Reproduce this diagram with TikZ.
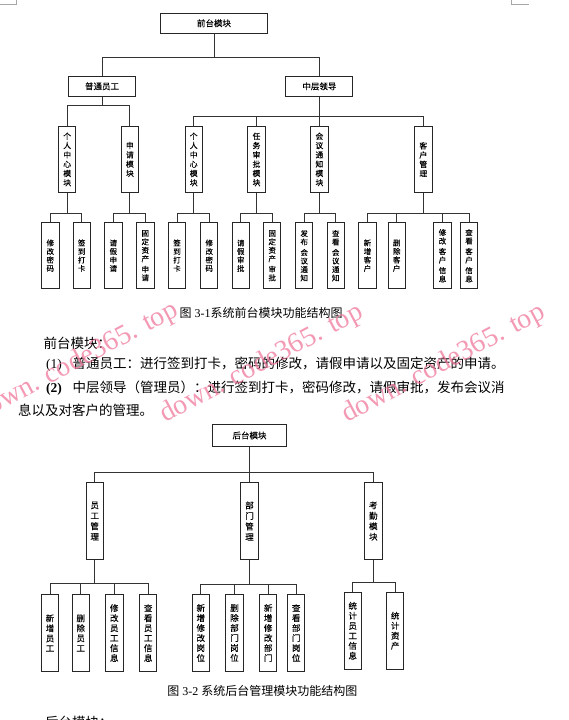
\documentclass[tikz,border=0pt]{standalone}
\usepackage{fontspec}
\setmainfont{Liberation Serif}
\newfontfamily\cjk{Noto Sans CJK SC}
\newfontfamily\cjkd[FakeBold=0.12]{Noto Sans CJK SC}
\definecolor{wmpink}{RGB}{240,120,155}
\begin{document}
\begin{tikzpicture}[x=1pt,y=-1pt,
 conn/.style={line width=1pt, draw=black!80},
 hbox/.style={draw=black!85, line width=1pt, fill=white, inner sep=0pt, minimum height=20pt, font=\cjkd\fontsize{8.5}{10}\selectfont},
 vbox/.style={draw=black!85, line width=1pt, fill=white, inner sep=0pt, minimum width=17.4pt, minimum height=65.6pt, align=center, font=\cjkd\fontsize{7.8}{9.3}\selectfont},
 leafbox/.style={vbox, minimum height=66pt, font=\cjkd\fontsize{7.5}{8.5}\selectfont},
 vboxb/.style={vbox, minimum height=76.6pt, font=\cjkd\fontsize{8.5}{10.5}\selectfont},
 leafboxb/.style={vbox, minimum height=77.4pt, font=\cjkd\fontsize{8.5}{10}\selectfont},
 body/.style={anchor=west, inner sep=0pt, font=\cjk\fontsize{13.5}{16}\selectfont},
 captext/.style={inner sep=0pt, font=\fontsize{12}{14}\selectfont},
 wm/.style={text=wmpink, opacity=0.75, font=\fontsize{28}{30}\selectfont, inner sep=0pt},
 cornermark/.style={black!35, line width=0.6pt},
]
\useasboundingbox (0,0) rectangle (568,720);
\fill[white] (0,0) rectangle (568,720);
\clip (0,0) rectangle (568,720);
% corner marks
\draw[cornermark] (0,4.3) -- (16.3,4.3) -- (16.3,0);
\draw[cornermark] (511,0) -- (511,4.3) -- (529,4.3);

% ---------- diagram 1 ----------
\node[hbox, minimum width=107.8pt] (front) at (214,23.3) {前台模块};
\node[hbox, minimum width=67pt] (staff) at (102,86.3) {普通员工};
\node[hbox, minimum width=67pt] (lead) at (319.4,86.3) {中层领导};
\coordinate (fb) at (214,57.7);
\draw[conn] (front.south) -- (fb);
\draw[conn] (fb) -| (staff.north);
\draw[conn] (fb) -| (lead.north);

\node[vbox] (s1) at (67.2,159.5) {个\\人\\中\\心\\模\\块};
\node[vbox] (s2) at (129.9,159.5) {申\\请\\模\\块};
\coordinate (sb) at (102,105.7);
\draw[conn] (staff.south) -- (sb);
\draw[conn] (sb) -| (s1.north);
\draw[conn] (sb) -| (s2.north);

\node[vbox] (l1) at (193.7,159.5) {个\\人\\中\\心\\模\\块};
\node[vbox] (l2) at (256.5,159.5) {任\\务\\审\\批\\模\\块};
\node[vbox] (l3) at (319.4,159.5) {会\\议\\通\\知\\模\\块};
\node[vbox] (l4) at (423.3,159.5) {客\\户\\管\\理};
\coordinate (lb) at (319.4,116.7);
\draw[conn] (lead.south) -- (lb);
\foreach \c in {l1,l2,l3,l4} \draw[conn] (lb) -| (\c.north);

% leaves of diagram 1
\node[leafbox] (s1a) at (50.3,255.7) {修\\改\\密\\码};
\node[leafbox] (s1b) at (81.7,255.7) {签\\到\\打\\卡};
\coordinate (s1j) at (67.2,213.3);
\node[leafbox] (s2a) at (113.3,255.7) {请\\假\\申\\请};
\node[leafbox] (s2b) at (145.3,255.7) {固\\定\\资\\产\\[2pt]申\\请};
\coordinate (s2j) at (129.9,213.3);
\node[leafbox] (l1a) at (177,255.7) {签\\到\\打\\卡};
\node[leafbox] (l1b) at (209.2,255.7) {修\\改\\密\\码};
\coordinate (l1j) at (193.7,213.3);
\node[leafbox] (l2a) at (240.7,255.7) {请\\假\\审\\批};
\node[leafbox] (l2b) at (272.2,255.7) {固\\定\\资\\产\\[2pt]审\\批};
\coordinate (l2j) at (256.5,213.3);
\node[leafbox] (l3a) at (304.2,255.7) {发\\布\\[2pt]会\\议\\通\\知};
\node[leafbox] (l3b) at (335.7,255.7) {查\\看\\[2pt]会\\议\\通\\知};
\coordinate (l3j) at (319.4,213.3);
\node[leafbox] (l4a) at (367.5,255.7) {新\\增\\客\\户};
\node[leafbox] (l4b) at (396.7,255.7) {删\\除\\客\\户};
\node[leafbox] (l4c) at (442.5,255.7) {修\\改\\[2pt]客\\户\\[2pt]信\\息};
\node[leafbox] (l4d) at (469,255.7) {查\\看\\[2pt]客\\户\\[2pt]信\\息};
\coordinate (l4j) at (423.3,213.3);

\foreach \p/\j in {s1/s1j,s2/s2j,l1/l1j,l2/l2j,l3/l3j,l4/l4j} \draw[conn] (\p.south) -- (\j);
\foreach \j/\c in {s1j/s1a,s1j/s1b,s2j/s2a,s2j/s2b,l1j/l1a,l1j/l1b,l2j/l2a,l2j/l2b,l3j/l3a,l3j/l3b,l4j/l4a,l4j/l4b,l4j/l4c,l4j/l4d}
  \draw[conn] (\j) -| (\c.north);

\node[captext] (cap1) at (261,312.8) {{\cjk 图} 3-1{\cjk 系统前台模块功能结构图}};

% ---------- body text ----------
\node[body] (t0) at (43.5,343.5) {前台模块：};
\node[body] (t1) at (46,364) {\makebox[26.5pt][l]{\rmfamily(1)}普通员工：进行签到打卡，密码的修改，请假申请以及固定资产的申请。};
\node[body] (t2) at (46,388.5) {\makebox[26.5pt][l]{\rmfamily\bfseries(2)}中层领导（管理员）：进行签到打卡，密码修改，请假审批，发布会议消};
\node[body] (t3) at (18,410.5) {息以及对客户的管理。};

% ---------- diagram 2 ----------
\node[hbox, minimum width=74.6pt, minimum height=22.4pt] (back) at (249.5,435.5) {后台模块};
\node[vboxb] (e) at (94.7,521) {员\\工\\管\\理};
\node[vboxb] (d) at (249.5,521) {部\\门\\管\\理};
\node[vboxb] (k) at (373.3,521) {考\\勤\\模\\块};
\coordinate (bb) at (249.5,472.3);
\draw[conn] (back.south) -- (bb);
\foreach \c in {e,d,k} \draw[conn] (bb) -| (\c.north);

\node[leafboxb] (ea) at (50,633) {新\\增\\员\\工};
\node[leafboxb] (eb) at (80.7,633) {删\\除\\员\\工};
\node[leafboxb] (ec) at (114.3,633) {修\\改\\员\\工\\信\\息};
\node[leafboxb] (ed) at (148.2,633) {查\\看\\员\\工\\信\\息};
\coordinate (ej) at (94.7,583.7);
\node[leafboxb] (da) at (200.8,633) {新\\增\\修\\改\\岗\\位};
\node[leafboxb] (db) at (234.5,633) {删\\除\\部\\门\\岗\\位};
\node[leafboxb] (dc) at (268.2,633) {新\\增\\修\\改\\部\\门};
\node[leafboxb] (dd) at (296.2,633) {查\\看\\部\\门\\岗\\位};
\coordinate (dj) at (249.5,584);
\node[leafboxb] (ka) at (352.7,630.7) {统\\计\\员\\工\\信\\息};
\node[leafboxb] (kb) at (395.2,630.7) {统\\计\\资\\产};
\coordinate (kj) at (373.3,582);
\foreach \p/\j in {e/ej,d/dj,k/kj} \draw[conn] (\p.south) -- (\j);
\foreach \j/\c in {ej/ea,ej/eb,ej/ec,ej/ed,dj/da,dj/db,dj/dc,dj/dd,kj/ka,kj/kb}
  \draw[conn] (\j) -| (\c.north);

\node[captext] (cap2) at (262.3,691.3) {{\cjk 图} 3-2 {\cjk 系统后台管理模块功能结构图}};
\node[body, anchor=north west] (t4) at (45,715.5) {后台模块：};

% ---------- watermarks ----------
\node[wm, rotate=28] (w1) at (77,362) {down. code365. top};
\node[wm, rotate=28] (w2) at (262,364) {down. code365. top};
\node[wm, rotate=28] (w3) at (444,364) {down. code365. top};
\end{tikzpicture}
\end{document}
